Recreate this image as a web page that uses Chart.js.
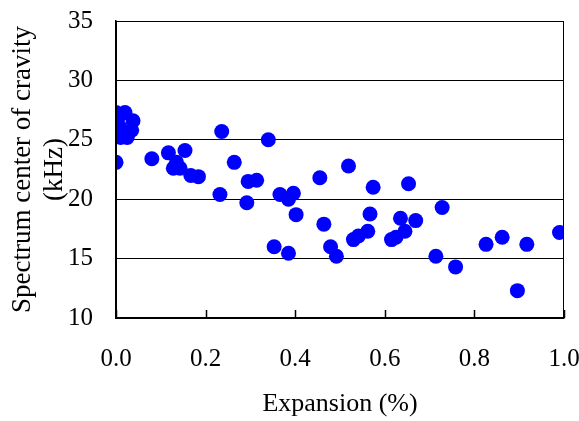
<!DOCTYPE html>
<html>
<head>
<meta charset="utf-8">
<script src="https://cdn.jsdelivr.net/npm/chart.js@4"></script>
<style>
  html, body { margin: 0; padding: 0; background: #fff; }
  #wrap { width: 579px; height: 421px; }
</style>
</head>
<body>
<div id="wrap"><canvas id="scatterChart" width="579" height="421"></canvas></div>
<script>
// expansion (%) and spectrum centre (kHz)
const expansion = [
  0.00, 0.02, 0.038, 0.00, 0.008, 0.035, 0.01, 0.025, 0.005, 0.00,
  0.08, 0.117, 0.154, 0.135, 0.128, 0.143, 0.167, 0.184, 0.236, 0.264,
  0.34, 0.232, 0.295, 0.314, 0.292, 0.366, 0.385, 0.396, 0.402, 0.353,
  0.385, 0.455, 0.519, 0.574, 0.653, 0.464, 0.567, 0.635, 0.669, 0.728,
  0.53, 0.541, 0.562, 0.615, 0.625, 0.645, 0.479, 0.492, 0.714, 0.758,
  0.826, 0.862, 0.917, 0.99, 0.896
];
const centerFreq = [
  27.3, 27.3, 26.6, 26.5, 26.1, 25.8, 25.2, 25.2, 26.9, 23.1,
  23.4, 23.9, 24.1, 23.1, 22.6, 22.6, 22.0, 21.9, 25.7, 23.1,
  25.0, 20.4, 21.5, 21.6, 19.7, 20.4, 20.0, 20.5, 18.7, 16.0,
  15.45, 21.8, 22.8, 21.0, 21.3, 17.9, 18.75, 18.4, 18.2, 19.3,
  16.6, 16.9, 17.3, 16.6, 16.8, 17.3, 16.0, 15.2, 15.2, 14.3,
  16.2, 16.8, 16.2, 17.2, 12.3
];
const xTicks = [0, 0.2, 0.4, 0.6, 0.8, 1.0];
const yTicks = [10, 15, 20, 25, 30, 35];

const points = expansion.map(function (x, i) {
    return { x: x, y: centerFreq[i] };
});

const serif = 'Liberation Serif';

// frame on top/right and the short inward ticks on the x axis
const frame = {
    id: 'frame',
    afterDraw: function (chart) {
        const ctx = chart.ctx;
        const a = chart.chartArea;
        const xs = chart.scales.x;
        ctx.save();
        ctx.strokeStyle = '#000';
        ctx.lineWidth = 1;
        ctx.strokeRect(a.left + 0.5, a.top + 0.5, a.right - a.left - 1, a.bottom - a.top);
        ctx.lineWidth = 1.5;
        ctx.beginPath();
        xTicks.forEach(function (v) {
            const px = Math.round(xs.getPixelForValue(v)) + 0.5;
            ctx.moveTo(px, a.bottom);
            ctx.lineTo(px, a.bottom - 8);
        });
        ctx.stroke();
        ctx.restore();
    }
};

new Chart(document.getElementById('scatterChart').getContext('2d'), {
    type: 'scatter',
    data: {
        datasets: [{
            data: points,
            backgroundColor: '#0000ff',
            borderWidth: 0,
            pointRadius: 7.5,
            pointHoverRadius: 7.5
        }]
    },
    options: {
        responsive: false,
        animation: false,
        layout: { padding: { top: 21, right: 15, left: 0, bottom: 0 } },
        plugins: {
            legend: { display: false },
            tooltip: { enabled: false }
        },
        scales: {
            x: {
                type: 'linear',
                min: 0,
                max: 1,
                afterFit: function (scale) {
                    scale.height = 103;
                    scale.paddingLeft = 0;
                    scale.paddingRight = 0;
                },
                afterBuildTicks: function (scale) {
                    scale.ticks = xTicks.map(function (v) { return { value: v }; });
                },
                ticks: {
                    padding: 26,
                    color: '#000',
                    font: { family: serif, size: 25 },
                    callback: function (v) { return Number(v).toFixed(1); }
                },
                grid: { display: false, drawTicks: false },
                border: { display: true, color: '#000', width: 1.5 },
                title: {
                    display: true,
                    text: 'Expansion (%)',
                    color: '#000',
                    font: { family: serif, size: 26 },
                    padding: { top: 0, bottom: 1 }
                }
            },
            y: {
                type: 'linear',
                min: 10,
                max: 35,
                afterFit: function (scale) {
                    scale.width = 116;
                    scale.paddingTop = 0;
                    scale.paddingBottom = 0;
                },
                afterBuildTicks: function (scale) {
                    scale.ticks = yTicks.map(function (v) { return { value: v }; });
                },
                ticks: {
                    padding: 23,
                    color: '#000',
                    font: { family: serif, size: 25 }
                },
                grid: { color: '#000', lineWidth: 1, drawTicks: false },
                border: { display: true, color: '#000', width: 1.5 },
                title: {
                    display: true,
                    text: ['Spectrum center of cravity', '(kHz)'],
                    color: '#000',
                    font: { family: serif, size: 27, lineHeight: 1.19 },
                    padding: { top: 7, bottom: 0 }
                }
            }
        }
    },
    plugins: [frame]
});
</script>
</body>
</html>
